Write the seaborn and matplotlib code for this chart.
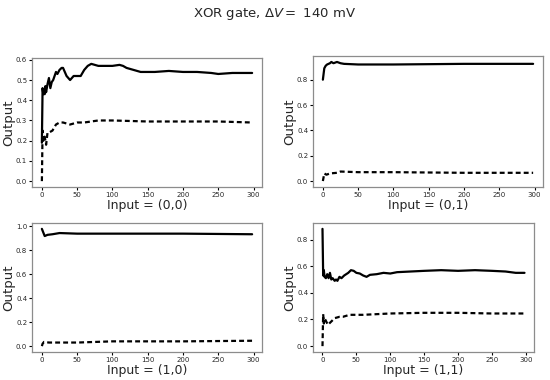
import numpy as np
import pandas as pd
import matplotlib
matplotlib.use("Agg")
import matplotlib.pyplot as plt
import seaborn as sns

# (0,0)
x00_solid = [0, 1, 2, 3, 4, 5, 6, 8, 10, 12, 14, 16, 18, 20, 22, 25, 28, 30, 35, 40, 45, 50, 55, 60, 65,
             70, 75, 80, 90, 100, 110, 115, 120, 130, 140, 150, 160, 180, 200, 220, 240, 250, 270, 298]
y00_solid = [0.19, 0.46, 0.43, 0.45, 0.43, 0.47, 0.44, 0.48, 0.51, 0.46, 0.49, 0.50, 0.52, 0.54, 0.53, 0.55,
             0.56, 0.56, 0.52, 0.50, 0.52, 0.52, 0.52, 0.55, 0.57, 0.58, 0.575, 0.57, 0.57, 0.57, 0.575,
             0.57, 0.56, 0.55, 0.54, 0.54, 0.54, 0.545, 0.54, 0.54, 0.535, 0.53, 0.535, 0.535]
x00_dash = [0, 1, 2, 4, 6, 8, 10, 15, 20, 25, 30, 40, 50, 60, 70, 80, 100, 150, 200, 250, 298]
y00_dash = [0.0, 0.25, 0.20, 0.22, 0.18, 0.24, 0.24, 0.25, 0.28, 0.29, 0.29, 0.28, 0.29, 0.29, 0.295,
            0.30, 0.30, 0.295, 0.295, 0.295, 0.29]

# (0,1)
x01_solid = [0, 2, 4, 6, 10, 12, 15, 20, 25, 30, 50, 100, 200, 298]
y01_solid = [0.80, 0.89, 0.91, 0.92, 0.93, 0.94, 0.93, 0.94, 0.93, 0.925, 0.92, 0.92, 0.925, 0.925]
x01_dash = [0, 1, 2, 5, 10, 20, 25, 50, 100, 200, 298]
y01_dash = [0.0, 0.03, 0.06, 0.05, 0.06, 0.065, 0.075, 0.07, 0.07, 0.065, 0.065]

# (1,0)
x10_solid = [0, 2, 4, 8, 15, 25, 50, 100, 200, 298]
y10_solid = [0.98, 0.95, 0.92, 0.93, 0.935, 0.945, 0.94, 0.94, 0.94, 0.935]
x10_dash = [0, 1, 3, 10, 50, 100, 200, 298]
y10_dash = [0.0, 0.02, 0.035, 0.03, 0.03, 0.04, 0.04, 0.045]

# (1,1)
x11_solid = [0, 1, 2, 3, 5, 7, 9, 11, 13, 15, 18, 20, 22, 25, 28, 32, 38, 42, 46, 50, 55, 60, 65, 70,
             80, 90, 100, 110, 130, 150, 175, 200, 225, 250, 270, 285, 298]
y11_solid = [0.88, 0.53, 0.57, 0.52, 0.51, 0.54, 0.51, 0.55, 0.50, 0.51, 0.49, 0.50, 0.49, 0.52, 0.51,
             0.53, 0.55, 0.57, 0.565, 0.55, 0.545, 0.53, 0.52, 0.535, 0.54, 0.55, 0.545, 0.555, 0.56,
             0.565, 0.57, 0.565, 0.57, 0.565, 0.56, 0.55, 0.55]
x11_dash = [0, 1, 2, 3, 5, 8, 12, 18, 25, 30, 40, 60, 100, 150, 200, 250, 298]
y11_dash = [0.0, 0.24, 0.17, 0.21, 0.19, 0.16, 0.18, 0.21, 0.22, 0.22, 0.235, 0.235, 0.245, 0.25,
            0.25, 0.245, 0.245]

panels = [
    ("Input = (0,0)", x00_solid, y00_solid, x00_dash, y00_dash, [0.0, 0.1, 0.2, 0.3, 0.4, 0.5, 0.6]),
    ("Input = (0,1)", x01_solid, y01_solid, x01_dash, y01_dash, [0.0, 0.2, 0.4, 0.6, 0.8]),
    ("Input = (1,0)", x10_solid, y10_solid, x10_dash, y10_dash, [0.0, 0.2, 0.4, 0.6, 0.8, 1.0]),
    ("Input = (1,1)", x11_solid, y11_solid, x11_dash, y11_dash, [0.0, 0.2, 0.4, 0.6, 0.8]),
]

sns.set_style("white")
plt.rcParams['font.family'] = ['DejaVu Sans']

fig = plt.figure(figsize=(5.5, 3.8), dpi=100)
rects = [
    (32 / 550, 1 - 187 / 380, 230 / 550, 129 / 380),
    (313 / 550, 1 - 187 / 380, 230 / 550, 131 / 380),
    (32 / 550, 1 - 352 / 380, 230 / 550, 129 / 380),
    (313 / 550, 1 - 352 / 380, 221 / 550, 129 / 380),
]

for rect, (lab, xs, ys, xd, yd, yt) in zip(rects, panels):
    ax = fig.add_axes(rect)
    sns.lineplot(x=xs, y=ys, ax=ax, color="black", linewidth=1.6)
    sns.lineplot(x=xd, y=yd, ax=ax, color="black", linewidth=1.6, linestyle=(0, (2.2, 1.4)))
    ax.set_xlim(-14, 312)
    ax.set_xticks([0, 50, 100, 150, 200, 250, 300])
    ax.set_yticks(yt)
    ax.set_xlabel(lab, fontsize=9, labelpad=0.5)
    ax.set_ylabel("Output", fontsize=9.5, labelpad=0.5)
    ax.tick_params(labelsize=5, length=2, width=0.8, color="black", pad=1.5, left=True, bottom=True)
    for sp in ax.spines.values():
        sp.set_color("#8c8c8c")
        sp.set_linewidth(0.9)

fig.suptitle(r"XOR gate, $\Delta V =$ 140 mV", fontsize=9.5, y=0.985)
fig.savefig("out.png", dpi=100)
